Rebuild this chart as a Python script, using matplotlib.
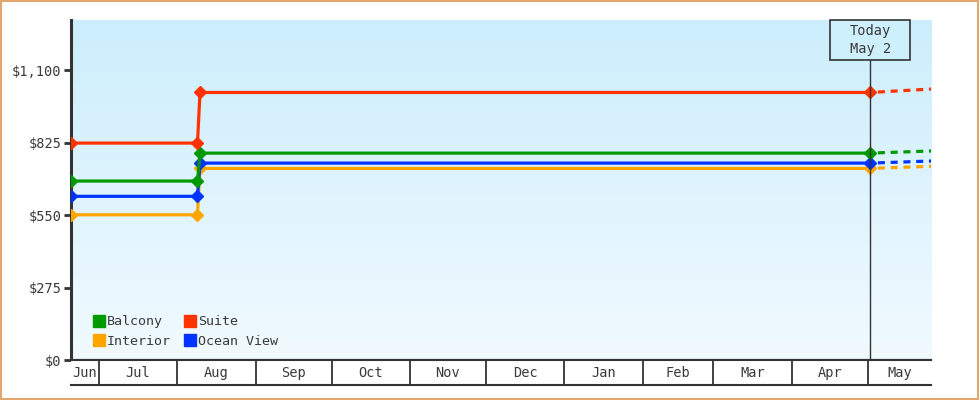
import matplotlib
matplotlib.use("Agg")
import matplotlib.pyplot as plt
import matplotlib.dates as mdates
import matplotlib.transforms as mtransforms
from matplotlib.patches import Rectangle
from matplotlib.lines import Line2D
import numpy as np
import datetime as dt

# ---- data ----
series_names = ["Interior", "Ocean View", "Balcony", "Suite"]
series_colors = ["#ffa500", "#0033ff", "#009900", "#ff3300"]
point_dates = ["2024-06-20", "2024-08-09", "2024-08-10", "2025-05-02"]
interior = [551, 551, 727, 727]
ocean_view = [621, 621, 747, 747]
balcony = [679, 679, 785, 785]
suite = [823, 823, 1015, 1015]
projection_dates = ["2025-05-02", "2025-05-26"]
interior_proj = [727, 735]
ocean_view_proj = [747, 755]
balcony_proj = [785, 793]
suite_proj = [1015, 1028]
y_ticks = [0, 275, 550, 825, 1100]
month_labels = ["Jun", "Jul", "Aug", "Sep", "Oct", "Nov", "Dec", "Jan", "Feb", "Mar", "Apr", "May"]
month_starts = ["2024-06-01", "2024-07-01", "2024-08-01", "2024-09-01", "2024-10-01", "2024-11-01",
                "2024-12-01", "2025-01-01", "2025-02-01", "2025-03-01", "2025-04-01", "2025-05-01"]
x_start = "2024-06-20"
x_end = "2025-05-26"
today = "2025-05-02"
today_label = "Today\nMay 2"
y_max = 1290

values = [interior, ocean_view, balcony, suite]
proj_values = [interior_proj, ocean_view_proj, balcony_proj, suite_proj]

def d(s):
    return mdates.date2num(dt.datetime.strptime(s, "%Y-%m-%d"))

plt.rcParams['font.family'] = ['DejaVu Sans Mono', 'DejaVu Sans']
plt.rcParams['font.size'] = 10

TXT = "#3a3a3a"
W, H = 980, 400
fig = plt.figure(figsize=(W / 100, H / 100), dpi=100)
fig.patch.set_facecolor("white")

L, R, T, B = 71, 931, 20, 360
ax = fig.add_axes([L / W, 1 - B / H, (R - L) / W, (B - T) / H])
ax2 = fig.add_axes([L / W, 1 - 385 / H, (R - L) / W, 25 / H], sharex=ax)

# gradient background
grad = np.linspace(0, 1, 256).reshape(-1, 1)
top_c = np.array([204, 238, 252]) / 255
bot_c = np.array([241, 250, 255]) / 255
img = top_c[None, None, :] * (1 - grad[:, :, None]) + bot_c[None, None, :] * grad[:, :, None]
ax.imshow(img, extent=[0, 1, 0, 1], transform=ax.transAxes, aspect='auto', zorder=0)

xs = [d(s) for s in point_dates]
pxs = [d(s) for s in projection_dates]
for name, col, v, pv in zip(series_names, series_colors, values, proj_values):
    ax.plot(xs, v, color=col, lw=2.3, marker='D', markersize=6, zorder=3, solid_capstyle='butt')
    ax.plot([pxs[0] + 3, pxs[1]], [pv[0] + (pv[1] - pv[0]) * 3 / (pxs[1] - pxs[0]), pv[1]],
            color=col, lw=2.3, ls=(0, (2.2, 1.8)), zorder=3, dash_capstyle='butt')

ax.set_xlim(d(x_start), d(x_end))
ax.set_ylim(0, y_max)

# axes styling
for s in ["top", "right"]:
    ax.spines[s].set_visible(False)
ax.spines["left"].set_linewidth(2.2)
ax.spines["left"].set_color("#333333")
ax.spines["bottom"].set_linewidth(1.5)
ax.spines["bottom"].set_color("#333333")
ax.set_yticks(y_ticks)
ax.set_yticklabels(["$" + f"{t:,}" for t in y_ticks], color=TXT, fontsize=9.8)
ax.tick_params(axis='y', length=5, width=2, color="#333333", pad=2)
ax.tick_params(axis='x', bottom=False, labelbottom=False)

# today marker
tx = d(today)
trans = mtransforms.blended_transform_factory(ax.transData, ax.transAxes)
box_h = 40 / (B - T)
half_w = 40 / ((R - L) / (d(x_end) - d(x_start)))
ax.plot([tx, tx], [0, 1 - box_h], color="#333333", lw=1, transform=trans, zorder=4)
ax.add_patch(Rectangle((tx - half_w, 1 - box_h), 2 * half_w, box_h, transform=trans,
                       facecolor="#cdf0fc", edgecolor="#333333", lw=1.2, zorder=5, clip_on=False))
ax.text(tx, 1 - box_h / 2, today_label, transform=trans, ha='center', va='center',
        color=TXT, zorder=6, linespacing=1.3, fontsize=9.8)

# legend
legend_order = [2, 0, 3, 1]
handles = [Line2D([], [], marker='s', ls='none', color=series_colors[i], markersize=8) for i in legend_order]
labels = [series_names[i] for i in legend_order]
leg = ax.legend(handles, labels, ncol=2, loc='lower left', bbox_to_anchor=(0.0095, 0.0),
                frameon=False, handletextpad=0.0, columnspacing=0.8, labelspacing=0.5,
                handlelength=1.2, fontsize=9.6)
for t in leg.get_texts():
    t.set_color(TXT)

# month band
ax2.set_ylim(0, 1)
ax2.set_facecolor("white")
for s in ["left", "right"]:
    ax2.spines[s].set_visible(False)
for s in ["top", "bottom"]:
    ax2.spines[s].set_linewidth(1.5)
    ax2.spines[s].set_color("#333333")
ax2.set_xticks([])
ax2.set_yticks([])
ms = [d(s) for s in month_starts]
bounds = ms[1:]
for b in bounds:
    ax2.plot([b, b], [0, 1], color="#333333", lw=1.3)
edges = [d(x_start)] + bounds + [d(x_end)]
for i, lab in enumerate(month_labels):
    ax2.text((edges[i] + edges[i + 1]) / 2, 0.48, lab, ha='center', va='center', color=TXT, fontsize=9.8)
ax2.set_xlim(d(x_start), d(x_end))

# outer border
fig.add_artist(Rectangle((0.001, 0.002), 0.997, 0.996, transform=fig.transFigure, fill=False,
                         edgecolor="#e2a86f", lw=1.5))

fig.savefig("out.png", dpi=100)
